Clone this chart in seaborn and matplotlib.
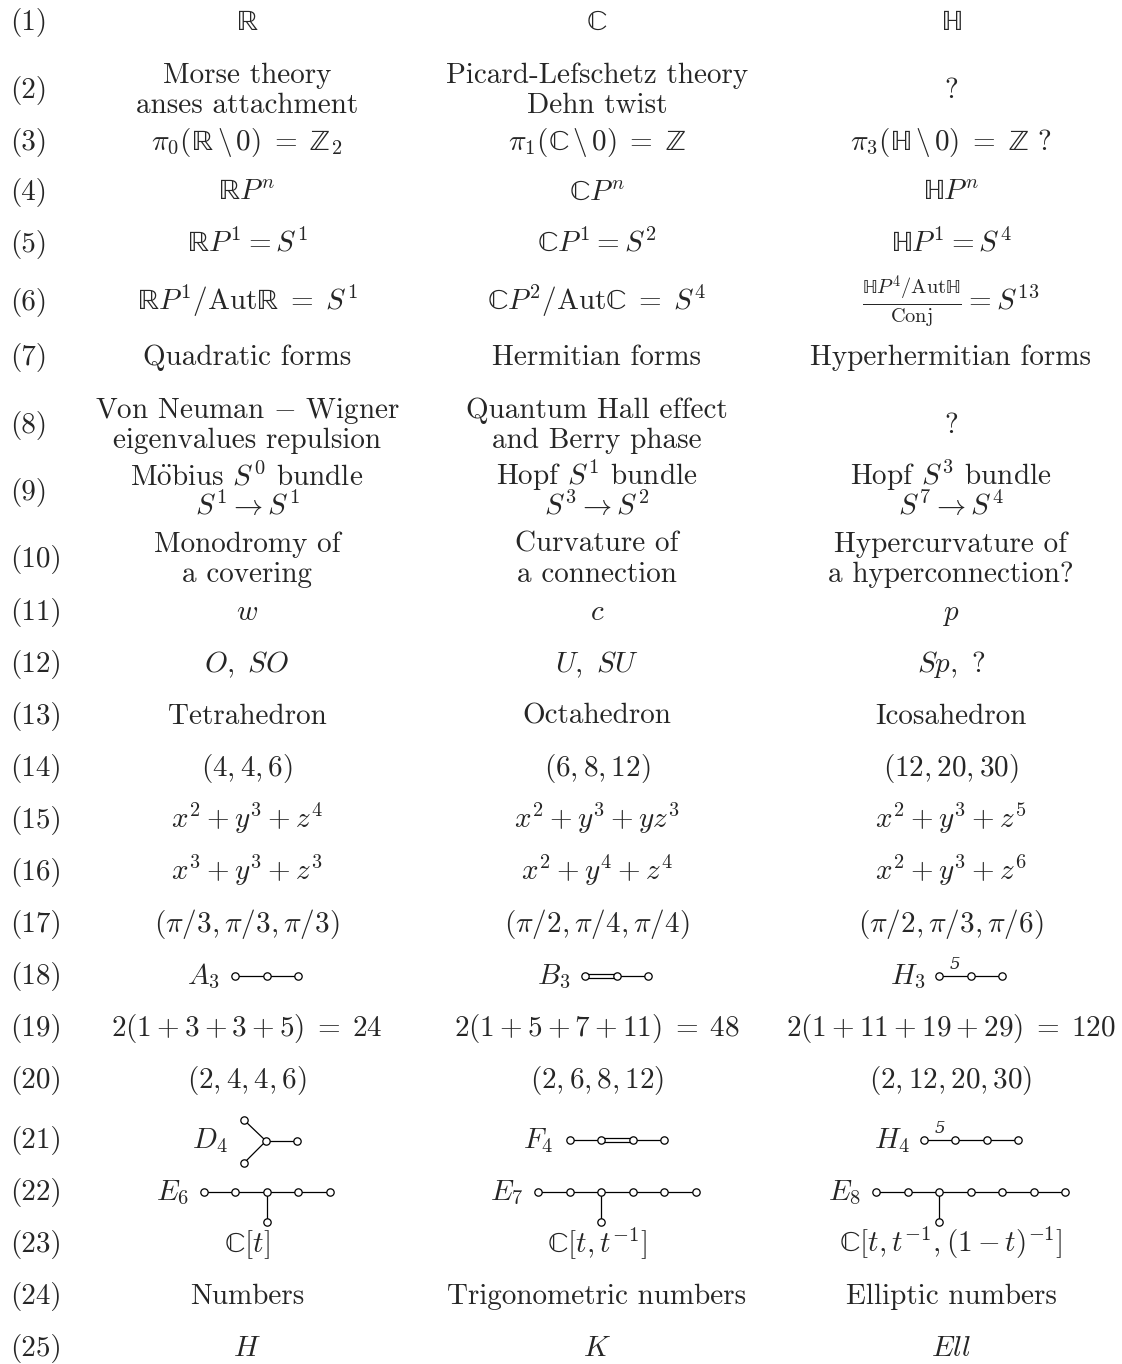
import re
import matplotlib
matplotlib.use("Agg")
import matplotlib.pyplot as plt
import seaborn as sns
import pandas as pd

# Row numbers and the three columns of the table
row_labels = [f"({i})" for i in range(1, 26)]

col_R = [
    r"$\mathbb{R}$",
    "Morse theory\nanses attachment",
    r"$\pi_0(\mathbb{R}\,\backslash\,0)\;=\;\mathbb{Z}_2$",
    r"$\mathbb{R}P^n$",
    r"$\mathbb{R}P^1=S^1$",
    r"$\mathbb{R}P^1/\mathrm{Aut}\mathbb{R}\;=\;S^1$",
    "Quadratic forms",
    "Von Neuman $-$ Wigner\neigenvalues repulsion",
    "M$\\ddot{\\mathrm{o}}$bius $S^0$ bundle\n$S^1\\rightarrow S^1$",
    "Monodromy of\na covering",
    r"$w$",
    r"$O,\ SO$",
    "Tetrahedron",
    r"$(4,4,6)$",
    r"$x^2+y^3+z^4$",
    r"$x^3+y^3+z^3$",
    r"$(\pi/3,\pi/3,\pi/3)$",
    "A3",
    r"$2(1+3+3+5)\;=\;24$",
    r"$(2,4,4,6)$",
    "D4",
    "E6",
    r"$\mathbb{C}[t]$",
    "Numbers",
    r"$H$",
]

col_C = [
    r"$\mathbb{C}$",
    "Picard-Lefschetz theory\nDehn twist",
    r"$\pi_1(\mathbb{C}\,\backslash\,0)\;=\;\mathbb{Z}$",
    r"$\mathbb{C}P^n$",
    r"$\mathbb{C}P^1=S^2$",
    r"$\mathbb{C}P^2/\mathrm{Aut}\mathbb{C}\;=\;S^4$",
    "Hermitian forms",
    "Quantum Hall effect\nand Berry phase",
    "Hopf $S^1$ bundle\n$S^3\\rightarrow S^2$",
    "Curvature of\na connection",
    r"$c$",
    r"$U,\ SU$",
    "Octahedron",
    r"$(6,8,12)$",
    r"$x^2+y^3+yz^3$",
    r"$x^2+y^4+z^4$",
    r"$(\pi/2,\pi/4,\pi/4)$",
    "B3",
    r"$2(1+5+7+11)\;=\;48$",
    r"$(2,6,8,12)$",
    "F4",
    "E7",
    r"$\mathbb{C}[t,t^{-1}]$",
    "Trigonometric numbers",
    r"$K$",
]

col_H = [
    r"$\mathbb{H}$",
    "?",
    r"$\pi_3(\mathbb{H}\,\backslash\,0)\;=\;\mathbb{Z}$ ?",
    r"$\mathbb{H}P^n$",
    r"$\mathbb{H}P^1=S^4$",
    r"$\frac{\mathbb{H}P^4/\mathrm{Aut}\mathbb{H}}{\mathrm{Conj}}=S^{13}$",
    "Hyperhermitian forms",
    "?",
    "Hopf $S^3$ bundle\n$S^7\\rightarrow S^4$",
    "Hypercurvature of\na hyperconnection?",
    r"$p$",
    r"$Sp,\ ?$",
    "Icosahedron",
    r"$(12,20,30)$",
    r"$x^2+y^3+z^5$",
    r"$x^2+y^3+z^6$",
    r"$(\pi/2,\pi/3,\pi/6)$",
    "H3",
    r"$2(1+11+19+29)\;=\;120$",
    r"$(2,12,20,30)$",
    "H4",
    "E8",
    r"$\mathbb{C}[t,t^{-1},(1-t)^{-1}]$",
    "Elliptic numbers",
    r"$Ell$",
]

# Coxeter-Dynkin diagrams: node count, double edge, "5" edge, branch node
diagrams = {
    "A3": dict(label=r"$A_3$", n=3),
    "B3": dict(label=r"$B_3$", n=3, double=0),
    "H3": dict(label=r"$H_3$", n=3, five=0),
    "D4": dict(label=r"$D_4$", n=4, fork=True),
    "F4": dict(label=r"$F_4$", n=4, double=1),
    "H4": dict(label=r"$H_4$", n=4, five=0),
    "E6": dict(label=r"$E_6$", n=5, branch=2),
    "E7": dict(label=r"$E_7$", n=6, branch=2),
    "E8": dict(label=r"$E_8$", n=7, branch=2),
}

# vertical centres of the rows (pixels from top)
row_y = [20, 88, 140, 190, 242, 300, 355, 423, 490, 557, 610, 662, 714,
         766, 818, 870, 922, 974, 1026, 1078, 1138, 1190, 1242, 1294, 1346]
col_x = [247, 597, 951]

sns.set_theme(style="white")
plt.rcParams["mathtext.fontset"] = "cm"
plt.rcParams["font.family"] = ["cmr10", "DejaVu Serif"]
plt.rcParams["axes.formatter.use_mathtext"] = True

W, H = 1122, 1364
fig = plt.figure(figsize=(W / 100, H / 100), dpi=100)
ax = fig.add_axes([0, 0, 1, 1])
ax.set_xlim(0, W)
ax.set_ylim(H, 0)
ax.axis("off")

FS = 21
STEP = 31.5


def upright_bb(s):
    # keep blackboard letters upright (otherwise the italic variant is used)
    return re.sub(r"\\mathbb\{(\w)\}", r"\\mathrm{\\mathbb{\1}}", s)


def draw_diagram(spec, cx, cy):
    if spec.get("fork"):
        x0 = cx - 3
        c = (x0 + 22, cy + 3)
        nodes = [(x0, cy - 18), (x0, cy + 25), c, (c[0] + 31, c[1])]
        edges = [(0, 2), (1, 2), (2, 3)]
        lab_x = cx - 37
    else:
        n = spec["n"]
        x0 = cx - (n - 1) * STEP / 2 + 20
        ly = cy + 2
        nodes = [(x0 + i * STEP, ly) for i in range(n)]
        edges = [(i, i + 1) for i in range(n - 1)]
        if spec.get("branch") is not None:
            b = spec["branch"]
            nodes.append((nodes[b][0], ly + 30))
            edges.append((b, len(nodes) - 1))
        lab_x = x0 - 32
    for i, j in edges:
        (xa, ya), (xb, yb) = nodes[i], nodes[j]
        if spec.get("double") == i and j == i + 1:
            for d in (-2, 2):
                ax.plot([xa, xb], [ya + d, yb + d], color="black", lw=0.9, zorder=2)
        else:
            ax.plot([xa, xb], [ya, yb], color="black", lw=0.9, zorder=2)
        if spec.get("five") == i and j == i + 1:
            ax.text((xa + xb) / 2, ya - 7, "5", ha="center", va="baseline",
                    fontsize=12, style="italic", family="DejaVu Serif")
    df = pd.DataFrame(nodes, columns=["x", "y"])
    sns.scatterplot(data=df, x="x", y="y", ax=ax, s=28, marker="o",
                    facecolor="white", edgecolor="black", linewidth=0.9,
                    zorder=3, legend=False)
    ax.text(lab_x, cy + 10, spec["label"], ha="center", va="baseline", fontsize=FS)


for k, y in enumerate(row_y):
    ax.text(10, y + 10, row_labels[k], ha="left", va="baseline", fontsize=FS)
    for cx, col in zip(col_x, [col_R, col_C, col_H]):
        entry = col[k]
        if entry in diagrams:
            draw_diagram(diagrams[entry], cx, y)
            continue
        lines = upright_bb(entry).split("\n")
        if len(lines) == 1:
            ax.text(cx, y + 10, lines[0], ha="center", va="baseline", fontsize=FS)
        else:
            for m, line in enumerate(lines):
                ax.text(cx, y - 15 + 30 * m + 10, line, ha="center",
                        va="baseline", fontsize=FS)

ax.set_xlim(0, W)
ax.set_ylim(H, 0)
fig.savefig("out.png", dpi=100, facecolor="white")
